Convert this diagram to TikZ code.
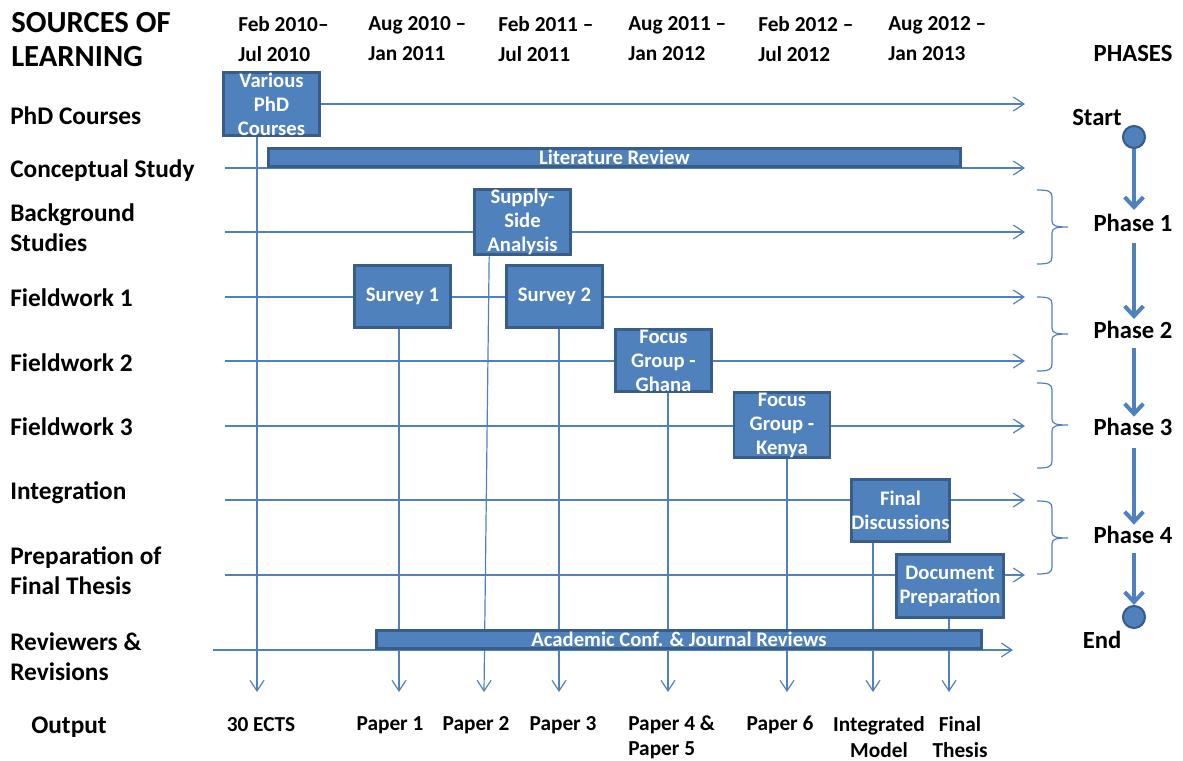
\documentclass[tikz,border=0pt]{standalone}
\usepackage{fontspec}
\setmainfont{Carlito}
\usetikzlibrary{arrows.meta,backgrounds}
\definecolor{boxfill}{HTML}{4F81BD}
\definecolor{boxedge}{HTML}{385D8A}
\definecolor{flow}{HTML}{4F81BD}
\begin{document}
\begin{tikzpicture}[x=0.75pt,y=-0.75pt,
  every node/.style={inner sep=0pt,font=\bfseries},
  title/.style={anchor=west,align=left,font=\bfseries\fontsize{23}{26}\selectfont},
  rowlabel/.style={anchor=west,align=left,font=\bfseries\fontsize{19}{22.5}\selectfont},
  datelabel/.style={anchor=west,align=left,font=\bfseries\fontsize{16}{22.5}\selectfont},
  outlabel/.style={align=center,font=\bfseries\fontsize{16}{19}\selectfont},
  phaselabel/.style={font=\bfseries\fontsize{18.5}{22}\selectfont},
  task/.style={draw=boxedge,line width=2.2pt,fill=boxfill,text=white,align=center,
    font=\bfseries\fontsize{15.5}{18}\selectfont},
  block/.style={task,minimum width=72pt,minimum height=47pt},
  bar/.style={task,minimum height=14pt},
  track/.style={draw=flow,line width=0.9pt,-{Straight Barb[length=8pt,width=10.5pt]}},
  brace/.style={draw=flow,line width=0.9pt},
  phaseflow/.style={draw=flow,line width=3pt,-{Straight Barb[length=7.5pt,width=14pt]}},
  milestone/.style={circle,draw=boxedge,fill=boxfill,line width=1.6pt,minimum size=16.5pt}]

\useasboundingbox (0,0) rectangle (1183,761);

% headings
\node[title] (src) at (11,39.5) {SOURCES OF\\LEARNING};
\node[datelabel] (d1) at (238,39) {Feb 2010--\\Jul 2010};
\node[datelabel] (d2) at (368,39) {Aug 2010 --\\Jan 2011};
\node[datelabel] (d3) at (498,39) {Feb 2011 --\\Jul 2011};
\node[datelabel] (d4) at (628,39) {Aug 2011 --\\Jan 2012};
\node[datelabel] (d5) at (758,39) {Feb 2012 --\\Jul 2012};
\node[datelabel] (d6) at (888,39) {Aug 2012 --\\Jan 2013};
\node[phaselabel] (phases) at (1133,53) {PHASES};

% sources of learning
\node[rowlabel] (l1) at (10,116) {PhD Courses};
\node[rowlabel] (l2) at (10,171) {Conceptual Study};
\node[rowlabel] (l3) at (10,228) {Background\\Studies};
\node[rowlabel] (l4) at (10,298) {Fieldwork 1};
\node[rowlabel] (l5) at (10,363) {Fieldwork 2};
\node[rowlabel] (l6) at (10,427) {Fieldwork 3};
\node[rowlabel] (l7) at (10,493) {Integration};
\node[rowlabel] (l8) at (10,571) {Preparation of\\Final Thesis};
\node[rowlabel] (l9) at (10,657) {Reviewers \&\\Revisions};
\node[rowlabel,anchor=center] (out) at (69,727) {Output};

% activities
\node[block] (phd) at (271.5,104) {Various\\PhD\\Courses};
\node[bar,minimum width=519pt] (lit) at (614.5,157.5) {Literature Review};
\node[block] (supply) at (522.5,222) {Supply-\\Side\\Analysis};
\node[block] (s1) at (402.5,296.5) {Survey 1};
\node[block] (s2) at (554.5,296.5) {Survey 2};
\node[block] (ghana) at (663.5,360.5) {Focus\\Group -\\Ghana};
\node[block] (kenya) at (782,425) {Focus\\Group -\\Kenya};
\node[block] (final) at (900.5,510.5) {Final\\Discussions};
\node[block,minimum width=80.25pt] (doc) at (950,586) {Document\\Preparation};
\node[bar,minimum width=453.75pt] (acad) at (679,639.5) {Academic Conf. \& Journal Reviews};

% outputs
\node[outlabel] (p0) at (261,725) {30 ECTS};
\node[outlabel] (p1) at (390,725) {Paper 1};
\node[outlabel] (p2) at (476,725) {Paper 2};
\node[outlabel] (p3) at (563,725) {Paper 3};
\node[outlabel,align=left,anchor=west] (p45) at (628,737) {Paper 4 \&\\Paper 5};
\node[outlabel] (p6) at (780,725) {Paper 6};
\node[outlabel] (pim) at (879,737) {Integrated\\Model};
\node[outlabel] (pft) at (960,737) {Final\\Thesis};

% row ends and output tips
\foreach \n/\y in {2/168,3/232,4/297,5/361,6/426,7/500,8/575} {
  \coordinate (rs\n) at (225,\y);
  \coordinate (re\n) at (1025,\y);
}
\coordinate (re1) at (1025,104);
\coordinate (rs9) at (213,650);
\coordinate (re9) at (1013,650);
\coordinate (o0) at (257,692);
\coordinate (o1) at (399,692);
\coordinate (o2) at (484,692);
\coordinate (o3) at (559,692);
\coordinate (o4) at (668,692);
\coordinate (o6) at (787,692);
\coordinate (o7) at (873,692);
\coordinate (o8) at (949,692);

\begin{scope}[on background layer]
  \draw[track] (phd.east) -- (re1);
  \foreach \n in {2,...,9} { \draw[track] (rs\n) -- (re\n); }
  \draw[track] (phd.south -| o0) -- (o0);
  \draw[track] (s1.south -| o1) -- (o1);
  \draw[track] ([xshift=-25pt]supply.south) -- (o2);
  \draw[track] (s2.south -| o3) -- (o3);
  \draw[track] (ghana.south -| o4) -- (o4);
  \draw[track] (kenya.south -| o6) -- (o6);
  \draw[track] (final.south -| o7) -- (o7);
  \draw[track] (doc.south -| o8) -- (o8);
\end{scope}

% phase braces
\foreach \t/\m/\b in {190/227/264, 297/334/371, 383/425/468, 501/538/574} {
  \draw[brace] (1037,\t) .. controls (1048,\t) and (1052,\t+1) .. (1052,\t+7)
    -- (1052,\m-6) .. controls (1052,\m-1) and (1056,\m) .. (1068,\m)
    .. controls (1056,\m) and (1052,\m+1) .. (1052,\m+6)
    -- (1052,\b-7) .. controls (1052,\b-1) and (1048,\b) .. (1037,\b);
}

% phases
\node[phaselabel] (startlbl) at (1097,117) {Start};
\node[milestone] (start) at (1134,137) {};
\node[phaselabel] (ph1) at (1133,223) {Phase 1};
\node[phaselabel] (ph2) at (1133,330) {Phase 2};
\node[phaselabel] (ph3) at (1133,427) {Phase 3};
\node[phaselabel] (ph4) at (1133,535) {Phase 4};
\node[milestone] (end) at (1134,617) {};
\node[phaselabel] (endlbl) at (1102,640) {End};

\draw[phaseflow,shorten >=3pt] (start.south) -- (ph1.north -| start);
\draw[phaseflow,shorten <=8pt,shorten >=1.5pt] (ph1.south -| start) -- (ph2.north -| start);
\draw[phaseflow,shorten <=7pt,shorten >=1pt] (ph2.south -| start) -- (ph3.north -| start);
\draw[phaseflow,shorten <=9pt,shorten >=1pt] (ph3.south -| start) -- (ph4.north -| start);
\draw[phaseflow,shorten <=7pt] (ph4.south -| start) -- (end.north);
\end{tikzpicture}
\end{document}
